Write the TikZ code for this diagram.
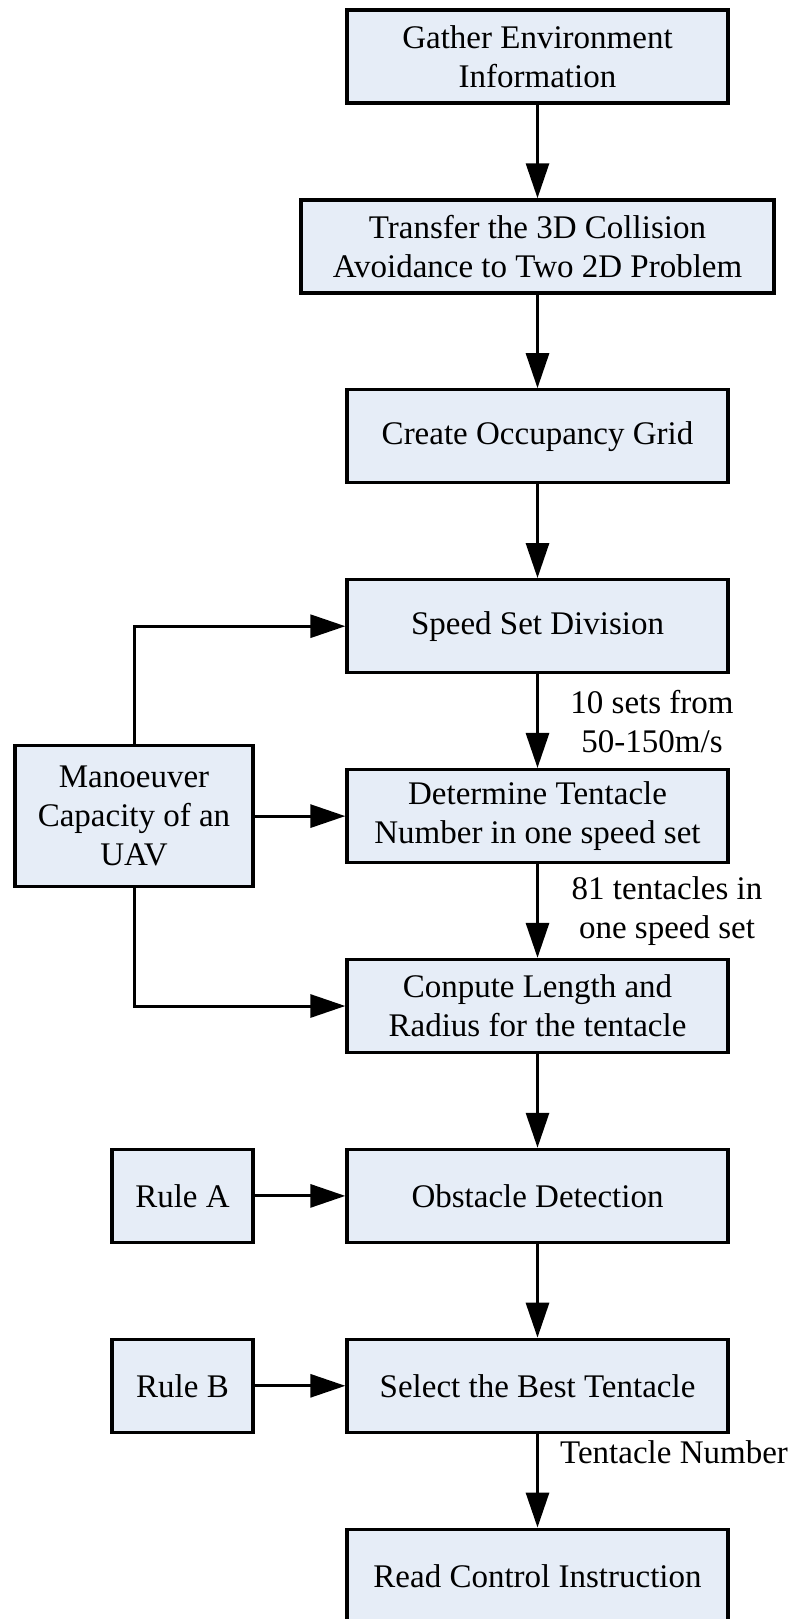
\documentclass[tikz,border=0pt]{standalone}
\usepackage{fontspec}
\setmainfont{Liberation Serif}
\usetikzlibrary{arrows.meta}
\definecolor{boxfill}{RGB}{230,237,247}
\begin{document}
\begin{tikzpicture}[x=1pt,y=-1pt,
  every node/.style={font=\fontsize{33}{39}\selectfont},
  box/.style={draw=black,fill=boxfill,line width=3.3pt,align=center,inner sep=0pt,
    minimum height=93pt,minimum width=381pt},
  sidebox/.style={box,minimum width=141pt},
  lbl/.style={align=center,inner sep=0pt},
  arr/.style={line width=3pt,-{Triangle[length=35pt,width=23pt]}},
  ln/.style={line width=3pt}]
\path[use as bounding box] (0,0) rectangle (798,1619);
\node[box] (b1) at (537.5,56.5) {Gather Environment\\Information};
\node[box,minimum width=473pt] (b2) at (537.5,246.4) {Transfer the 3D Collision\\Avoidance to Two 2D Problem};
\node[box] (b3) at (537.5,436.3) {Create Occupancy Grid};
\node[box] (b4) at (537.5,626.2) {Speed Set Division};
\node[box] (b5) at (537.5,816.1) {Determine Tentacle\\Number in one speed set};
\node[box] (b6) at (537.5,1006) {Conpute Length and\\Radius for the tentacle};
\node[box] (b7) at (537.5,1195.9) {Obstacle Detection};
\node[box] (b8) at (537.5,1385.8) {Select the Best Tentacle};
\node[box] (b9) at (537.5,1575.7) {Read Control Instruction};
\node[box,minimum width=238pt,minimum height=141pt] (man) at (134,816.1) {Manoeuver\\Capacity of an\\UAV};
\node[sidebox] (ra) at (182.5,1195.9) {Rule A};
\node[sidebox] (rb) at (182.5,1385.8) {Rule B};
\draw[arr] (b1) -- (b2);
\draw[arr] (b2) -- (b3);
\draw[arr] (b3) -- (b4);
\draw[arr] (b4) -- (b5);
\draw[arr] (b5) -- (b6);
\draw[arr] (b6) -- (b7);
\draw[arr] (b7) -- (b8);
\draw[arr] (b8) -- (b9);
\draw[arr] (man.north) |- (b4.west);
\draw[arr] (man.east) -- (b5.west);
\draw[arr] (man.south) |- (b6.west);
\draw[arr] (ra) -- (b7);
\draw[arr] (rb) -- (b8);
\node[lbl] (l1) at (652,721.5) {10 sets from\\50-150m/s};
\node[lbl] (l2) at (667,911) {81 tentacles in\\one speed set};
\node[lbl,anchor=west] (l3) at (560,1452) {Tentacle Number};
\end{tikzpicture}
\end{document}
